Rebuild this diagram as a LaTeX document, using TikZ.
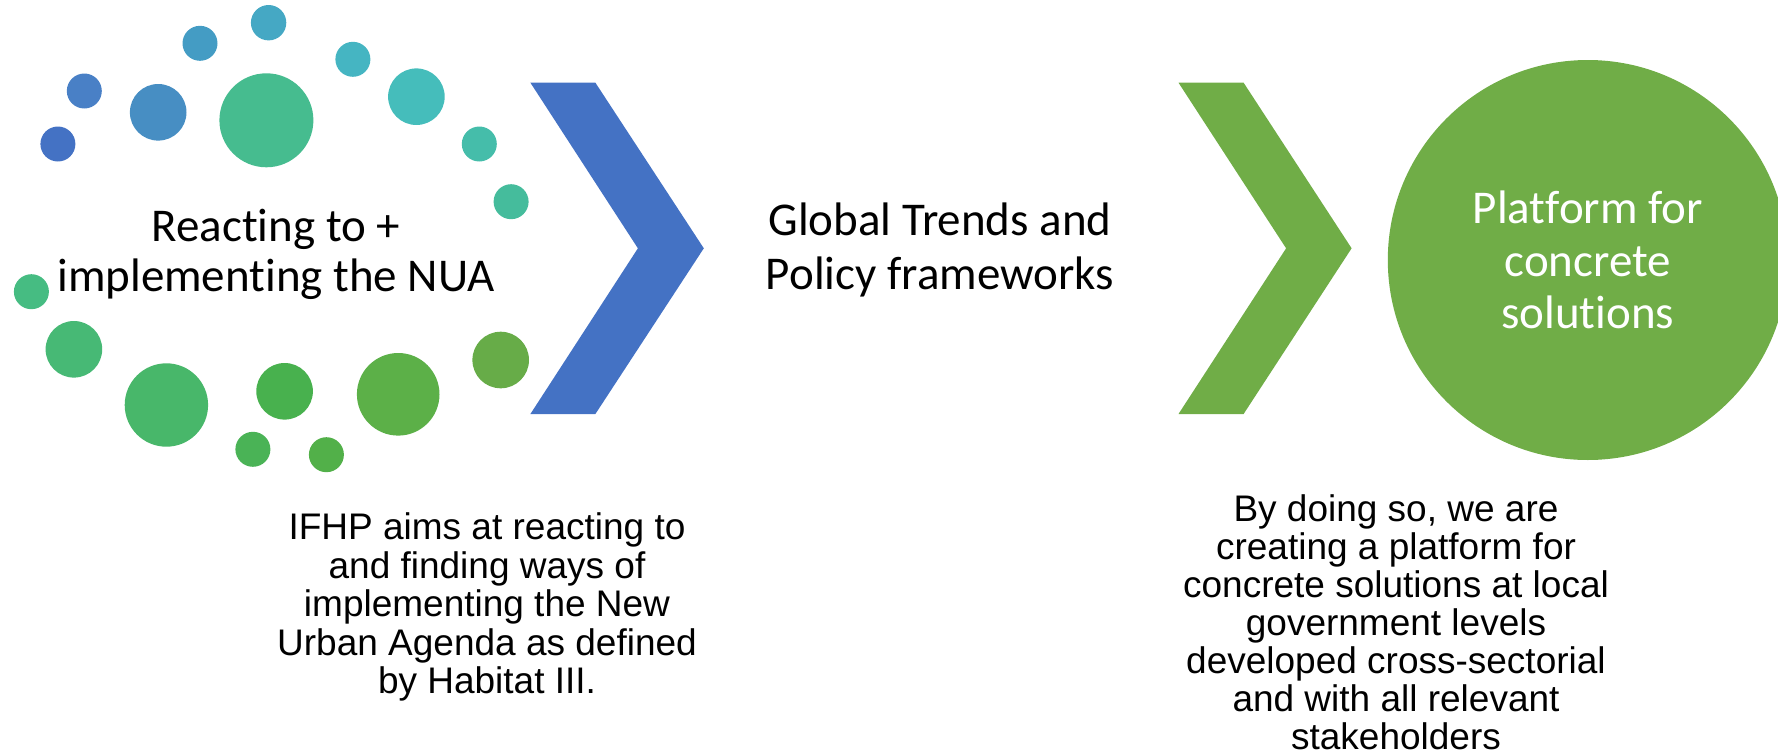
\documentclass[tikz,border=0pt]{standalone}
\usepackage{fontspec}
\setmainfont{Carlito}[Ligatures=NoCommon]
\newfontfamily\arialfont{Liberation Sans}
\usetikzlibrary{positioning}
\definecolor{chevblue}{HTML}{4472C4}
\definecolor{chevgreen}{HTML}{70AD47}

\tikzset{
  bigtext/.style={align=center, inner sep=0pt, anchor=north, font=\fontsize{47}{50}\selectfont},
  smalltext/.style={align=center, inner sep=0pt, anchor=north, font=\arialfont\fontsize{37}{38.4}\selectfont},
}

\begin{document}
\begin{tikzpicture}[x=1pt, y=-1pt]

\useasboundingbox (0,0) rectangle (1778,755);

% ring of dots
\foreach \x/\y/\r/\c in {268.6/22.7/17.7/45A8C4, 200/43.3/17.5/449CC4, 352.9/59.3/17.5/45B5C2,
    84.3/91/17.5/4980C6, 158.2/112.3/28.3/478EC3, 266.4/120.3/47/46BC8F, 416.4/96.7/28.3/45BDBB,
    57.9/144/17.5/4472C4, 479.3/144/17.5/45BDAA, 511.1/201.7/17.5/45BC9C, 31.4/291.7/17.5/46BC82,
    73.9/349.3/28.3/47B975, 166.4/405/41.7/48B76A, 284.6/391.3/28.3/48B14E, 398.2/394.3/41.3/5CB048,
    500.7/360/28.3/67AC48, 252.9/449.3/17.5/4AB356, 326.4/454.7/17.5/52B049}
{
    \definecolor{dotcol}{HTML}{\c}
    \fill[dotcol] (\x,\y) circle[radius=\r];
}

% chevrons
\fill[chevblue] (530.4,82.7) -- (595.4,82.7) -- (703.8,248.3) -- (595.4,414) -- (530.4,414) -- (637.9,248.3) -- cycle;
\fill[chevgreen] (1178.5,82.7) -- (1243.6,82.7) -- (1351.6,248.3) -- (1243.6,414) -- (1178.5,414) -- (1286.1,248.3) -- cycle;

\node[circle, fill=chevgreen, minimum size=400, inner sep=0pt, text=white, align=center,
      font=\fontsize{47}{52.5}\selectfont] (platform) at (1587.8,260) {Platform for\\concrete\\solutions};

\node[bigtext] (nua) at (276,208.6) {Reacting to +\\implementing the NUA};
\node[bigtext, font=\fontsize{47}{53.6}\selectfont] (trends) at (940,203.1) {Global Trends and\\Policy frameworks};

\node[smalltext] (aims) at (487,512.8) {IFHP aims at reacting to\\and finding ways of\\implementing the New\\Urban Agenda as defined\\by Habitat III.};
\node[smalltext, font=\arialfont\fontsize{37}{38.1}\selectfont] (doing) at (1396,494.2) {By doing so, we are\\creating a platform for\\concrete solutions at local\\government levels\\developed cross-sectorial\\and with all relevant\\stakeholders};

\end{tikzpicture}
\end{document}
